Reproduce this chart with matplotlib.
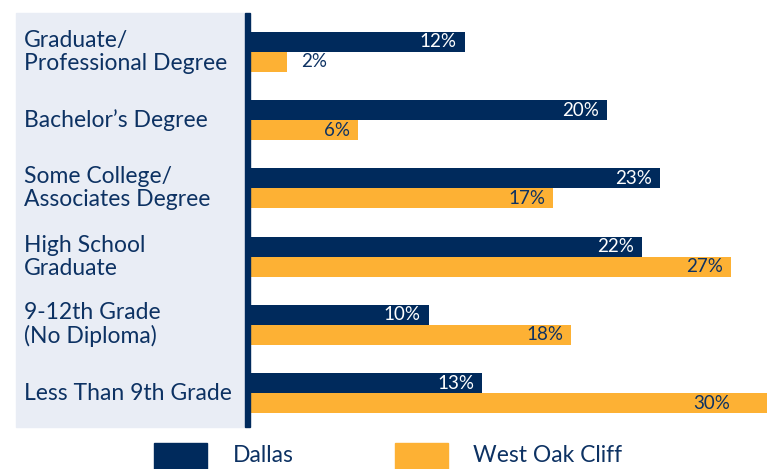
import numpy as np
import matplotlib.pyplot as plt
from matplotlib.patches import Rectangle

categories = ["Graduate/\nProfessional Degree", "Bachelor\u2019s Degree",
              "Some College/\nAssociates Degree", "High School\nGraduate",
              "9-12th Grade\n(No Diploma)", "Less Than 9th Grade"]
dallas = [12, 20, 23, 22, 10, 13]
west_oak_cliff = [2, 6, 17, 27, 18, 30]
series_names = ["Dallas", "West Oak Cliff"]

navy = "#002a5c"
orange = "#fdb134"
panel = "#e9edf5"
text_col = "#0d3263"

plt.rcParams['font.family'] = ['Lato', 'DejaVu Sans']

W, H = 767, 469
fig = plt.figure(figsize=(W / 100, H / 100), dpi=100)

# label panel + divider line
fig.patches.append(Rectangle((16 / W, 1 - 427 / H), (245 - 16) / W, (427 - 13) / H,
                             transform=fig.transFigure, color=panel, zorder=0))
fig.patches.append(Rectangle((245 / W, 1 - 427 / H), 5 / W, (427 - 13) / H,
                             transform=fig.transFigure, color=navy, zorder=1))

ax = fig.add_axes([251 / W, 1 - 428 / H, (W - 251) / W, (428 - 13) / H])
ax.set_facecolor("none")
xmax = 29
ax.set_xlim(0, xmax)
ax.set_ylim(5.51, -0.57)
ax.axis("off")

y = np.arange(len(categories))
h = 0.293
ax.barh(y - h / 2, dallas, height=h, color=navy)
ax.barh(y + h / 2, west_oak_cliff, height=h, color=orange)

for i, (d, w) in enumerate(zip(dallas, west_oak_cliff)):
    ax.text(d - 0.45, i - h / 2, f"{d}%", color="white", fontsize=13.5,
            ha="right", va="center")
    if w < 4:
        ax.text(w + 0.8, i + h / 2, f"{w}%", color=text_col, fontsize=13.5,
                ha="left", va="center")
    else:
        xt = min(w, xmax - 1.6) - 0.45
        ax.text(xt, i + h / 2, f"{w}%", color=text_col, fontsize=13.5,
                ha="right", va="center")

for i, c in enumerate(categories):
    yt = 1 - (52 + i * 68.2) / H
    fig.text(24 / W, yt, c, color=text_col, fontsize=16.5, ha="left",
             va="center", linespacing=1.12)

# legend
fig.patches.append(Rectangle((154 / W, 0), 53 / W, 26 / H,
                             transform=fig.transFigure, color=navy))
fig.text(233 / W, 14 / H, series_names[0], color=text_col, fontsize=16.5,
         ha="left", va="center")
fig.patches.append(Rectangle((395 / W, 0), 53 / W, 26 / H,
                             transform=fig.transFigure, color=orange))
fig.text(473 / W, 14 / H, series_names[1], color=text_col, fontsize=16.5,
         ha="left", va="center")

fig.savefig("out.png", dpi=100)
